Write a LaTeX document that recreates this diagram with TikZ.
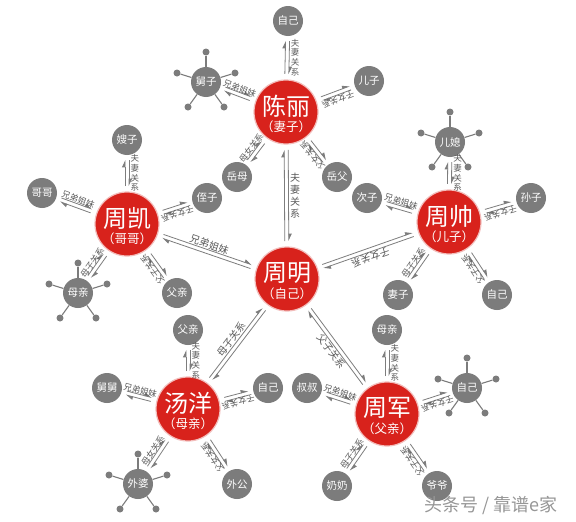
\documentclass[tikz,border=0pt]{standalone}
\usepackage{fontspec}
\setmainfont{Noto Sans CJK SC}
\usetikzlibrary{calc,arrows.meta}
\definecolor{hubred}{RGB}{216,34,28}
\definecolor{satgray}{RGB}{124,124,124}
\definecolor{linegray}{RGB}{125,125,125}
\definecolor{labgray}{RGB}{90,90,90}
\definecolor{markgray}{RGB}{150,150,150}
% double connector with half arrow heads: #1 hub, #2 satellite, #3/#4 gaps from centres
\newcommand\dconn[4]{%
  \draw[conn] ($(#1)!#3!(#2)!2pt!90:(#2)$) -- ($(#2)!#4!(#1)!2pt!-90:(#1)$);
  \draw[conn] ($(#2)!#4!(#1)!2pt!90:(#1)$) -- ($(#1)!#3!(#2)!2pt!-90:(#2)$);}
% sloped label: #1 from, #2 to, #3/#4 gaps, #5 options, #6 text
\newcommand\slab[6]{%
  \path ($(#1)!#3!(#2)$) -- ($(#2)!#4!(#1)$) node[midway,sloped,allow upside down,#5] {#6};}
% vertical label
\newcommand\vlabel[5]{%
  \path ($(#1)!#3!(#2)$) -- ($(#2)!#4!(#1)$) node[midway,right=3.5pt,#5] {夫\\妻\\关\\系};}
\newcommand\satdots[1]{%
  \foreach \dx/\dy [count=\i] in {0/-30,-29/-9,29/-9,-18/25,18/25}{%
    \node[dot] (#1-d\i) at ($(#1)+(\dx,\dy)$) {};
    \draw[dotline] (#1) -- (#1-d\i);}}
\begin{document}
\begin{tikzpicture}[x=1pt,y=-1pt,
  hub/.style={circle,fill=hubred,draw=hubred!30,line width=1.2pt,minimum size=64pt,inner sep=0pt},
  hubmain/.style={text=white,font=\fontsize{24}{26}\selectfont,inner sep=0pt},
  hubsub/.style={text=white,font=\fontsize{12.5}{13}\selectfont,inner sep=0pt},
  sat/.style={circle,fill=satgray,minimum size=30pt,inner sep=0pt,text=white,font=\fontsize{10.5}{10.5}\selectfont},
  dot/.style={circle,fill=satgray,minimum size=7pt,inner sep=0pt},
  dotline/.style={draw=satgray,line width=1.1pt},
  conn/.style={draw=linegray,line width=0.8pt,-{Triangle[harpoon,length=6.5pt,width=6pt]}},
  lab/.style={text=labgray,font=\fontsize{8.5}{9}\selectfont,inner sep=2pt},
  blab/.style={text=labgray,font=\fontsize{10}{11}\selectfont,inner sep=2.5pt},
  vlab/.style={text=labgray,font=\fontsize{8.5}{9.6}\selectfont,align=center,inner sep=0pt},
  bvlab/.style={text=labgray,font=\fontsize{10}{12}\selectfont,align=center,inner sep=0pt},
]
\fill[white] (0,0) rectangle (576,522);
\useasboundingbox (0,0) rectangle (576,522);

% ---------- hubs ----------
\foreach \n/\x/\y/\m/\s in {cl/286/112/陈丽/（妻子）, zk/127/224/周凯/（哥哥）, zm/287/279/周明/（自己）,
    zs/449/222/周帅/（儿子）, ty/188/409/汤洋/（母亲）, zj/387/414/周军/（父亲）}{
  \node[hub] (\n) at (\x,\y) {};
  \node[hubmain] (\n-m) at ($(\n)+(0,-6)$) {\m};
  \node[hubsub] (\n-s) at ($(\n)+(0,15)$) {\s};
}

% ---------- satellites ----------
\node[sat] (cl-a) at (288,21) {自己};
\node[sat] (cl-b) at (206,82) {舅子};
\node[sat] (cl-c) at (369,81) {儿子};
\node[sat] (cl-d) at (237,177) {岳母};
\node[sat] (cl-e) at (337,177) {岳父};

\node[sat] (zk-a) at (127,140) {嫂子};
\node[sat] (zk-b) at (42,193) {哥哥};
\node[sat] (zk-c) at (207,198) {侄子};
\node[sat] (zk-d) at (78,293) {母亲};
\node[sat] (zk-e) at (177,293) {父亲};

\node[sat] (zs-a) at (450,142) {儿媳};
\node[sat] (zs-b) at (367,198) {次子};
\node[sat] (zs-c) at (531,198) {孙子};
\node[sat] (zs-d) at (398,295) {妻子};
\node[sat] (zs-e) at (497,295) {自己};

\node[sat] (ty-a) at (188,330) {父亲};
\node[sat] (ty-b) at (107,388) {舅舅};
\node[sat] (ty-c) at (268,388) {自己};
\node[sat] (ty-d) at (138,484) {外婆};
\node[sat] (ty-e) at (237,484) {外公};

\node[sat] (zj-a) at (387,330) {母亲};
\node[sat] (zj-b) at (307,388) {叔叔};
\node[sat] (zj-c) at (467,388) {自己};
\node[sat] (zj-d) at (337,486) {奶奶};
\node[sat] (zj-e) at (437,486) {爷爷};

\satdots{cl-b}
\satdots{zk-d}
\satdots{zs-a}
\satdots{ty-d}
\satdots{zj-c}

% ---------- hub-satellite connectors ----------
\foreach \h in {cl,zk,zs,ty,zj}{
  \foreach \s in {a,b,c,d,e}{
    \dconn{\h}{\h-\s}{38pt}{20pt}
  }
  \vlabel{\h-a}{\h}{20pt}{38pt}{vlab}
  \slab{\h-b}{\h}{20pt}{38pt}{lab,above}{兄弟姐妹}
  \slab{\h-c}{\h}{20pt}{38pt}{lab,above}{子女关系}
}
\slab{cl-d}{cl}{20pt}{38pt}{lab,above}{母女关系}
\slab{cl-e}{cl}{20pt}{38pt}{lab,above}{父女关系}
\slab{zk-d}{zk}{20pt}{38pt}{lab,above}{母子关系}
\slab{zk-e}{zk}{20pt}{38pt}{lab,above}{父子关系}
\slab{zs-d}{zs}{20pt}{38pt}{lab,above}{母子关系}
\slab{zs-e}{zs}{20pt}{38pt}{lab,above}{父子关系}
\slab{ty-d}{ty}{20pt}{38pt}{lab,above}{母女关系}
\slab{ty-e}{ty}{20pt}{38pt}{lab,above}{父女关系}
\slab{zj-d}{zj}{20pt}{38pt}{lab,above}{母子关系}
\slab{zj-e}{zj}{20pt}{38pt}{lab,above}{父子关系}

% ---------- hub-hub connectors ----------
\dconn{zm}{cl}{38pt}{38pt}
\dconn{zk}{zm}{38pt}{38pt}
\dconn{zm}{zs}{38pt}{38pt}
\dconn{zm}{ty}{38pt}{38pt}
\dconn{zj}{zm}{38pt}{38pt}
\vlabel{cl}{zm}{38pt}{38pt}{bvlab}
\slab{zk}{zm}{38pt}{38pt}{blab,above}{兄弟姐妹}
\slab{zs}{zm}{38pt}{38pt}{blab,above}{子女关系}
\slab{ty}{zm}{38pt}{38pt}{blab,above}{母子关系}
\slab{zm}{zj}{38pt}{38pt}{blab,below}{父子关系}

% ---------- watermark ----------
\node[text=markgray,font=\fontsize{18}{18}\selectfont,inner sep=0pt] (mark) at (491,505) {头条号 / 靠谱e家};
\end{tikzpicture}
\end{document}
